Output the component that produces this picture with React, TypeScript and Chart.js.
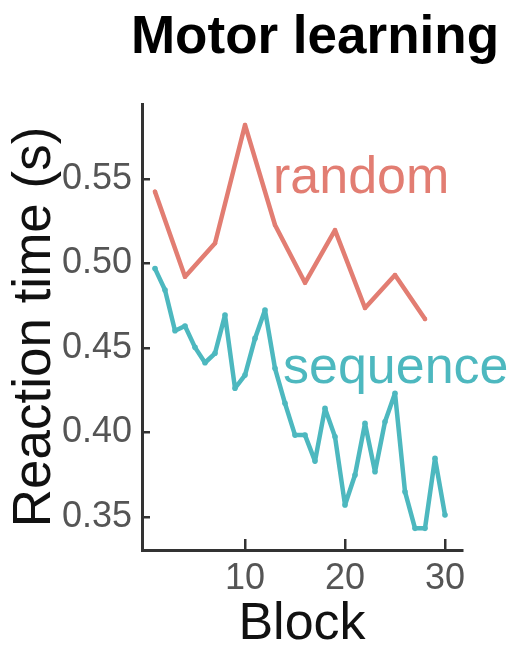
import { useEffect, useRef } from "react";
import { Chart, registerables } from "chart.js";

Chart.register(...registerables);

// ---- data ----
const chartTitle = "Motor learning";
const xAxisTitle = "Block";
const yAxisTitle = "Reaction time (s)";
const seriesNames = ["random", "sequence"];

const randomBlocks = [1, 4, 7, 10, 13, 16, 19, 22, 25, 28];
const randomRT = [0.5425, 0.4922, 0.512, 0.582, 0.5228, 0.4886, 0.5198, 0.4737, 0.4932, 0.4672];

const sequenceBlocks = [
  1, 2, 3, 4, 5, 6, 7, 8, 9, 10, 11, 12, 13, 14, 15,
  16, 17, 18, 19, 20, 21, 22, 23, 24, 25, 26, 27, 28, 29, 30,
];
const sequenceRT = [
  0.497, 0.4843, 0.4602, 0.463, 0.4504, 0.4413, 0.4469, 0.4695, 0.4262, 0.434,
  0.4557, 0.4725, 0.438, 0.4173, 0.3985, 0.3985, 0.3831, 0.4143, 0.3975, 0.3571,
  0.3749, 0.4054, 0.3768, 0.4064, 0.4232, 0.365, 0.3433, 0.3433, 0.3847, 0.3512,
];

const xTickValues = [10, 20, 30];
const yTickValues = [0.35, 0.4, 0.45, 0.5, 0.55];

// ---- styles ----
const RED = "#E27D72";
const TEAL = "#4DB8BF";
const FONT = '"Liberation Sans", Arial, Helvetica, sans-serif';

const labelPlugin = {
  id: "textLabels",
  afterDatasetsDraw(chart: any) {
    const { ctx, scales } = chart;
    const x = scales.x;
    const y = scales.y;
    ctx.save();
    ctx.textBaseline = "alphabetic";
    // title
    ctx.font = `bold 53px ${FONT}`;
    ctx.fillStyle = "#000000";
    ctx.textAlign = "center";
    ctx.fillText(chartTitle, 315, 53);
    // series labels
    ctx.font = `52px ${FONT}`;
    ctx.textAlign = "left";
    ctx.fillStyle = RED;
    ctx.fillText(seriesNames[0], x.getPixelForValue(12.8), y.getPixelForValue(0.5417));
    ctx.fillStyle = TEAL;
    ctx.fillText(seriesNames[1], x.getPixelForValue(13.8), y.getPixelForValue(0.4293));
    ctx.restore();
  },
};

export default function App() {
  const canvasRef = useRef<HTMLCanvasElement | null>(null);

  useEffect(() => {
    if (!canvasRef.current) return;
    const chart = new Chart(canvasRef.current, {
      type: "line",
      data: {
        datasets: [
          {
            label: seriesNames[0],
            data: randomBlocks.map((b, i) => ({ x: b, y: randomRT[i] })),
            borderColor: RED,
            backgroundColor: RED,
            borderWidth: 4.5,
            pointRadius: 2.2,
            pointBorderWidth: 0,
            pointBackgroundColor: RED,
            borderJoinStyle: "round",
            borderCapStyle: "round",
            tension: 0,
            clip: false as any,
          },
          {
            label: seriesNames[1],
            data: sequenceBlocks.map((b, i) => ({ x: b, y: sequenceRT[i] })),
            borderColor: TEAL,
            backgroundColor: TEAL,
            borderWidth: 4.5,
            pointRadius: 2.8,
            pointBorderWidth: 0,
            pointBackgroundColor: TEAL,
            borderJoinStyle: "round",
            borderCapStyle: "round",
            tension: 0,
            clip: false as any,
          },
        ],
      },
      options: {
        responsive: false,
        animation: false,
        layout: { padding: { top: 104, right: 56, left: 0, bottom: 0 } },
        plugins: {
          legend: { display: false },
          tooltip: { enabled: false },
          title: { display: false },
        },
        scales: {
          x: {
            type: "linear",
            min: -0.3,
            max: 31.7,
            afterBuildTicks: (s: any) => {
              s.ticks = xTickValues.map((v) => ({ value: v }));
            },
            afterFit: (s: any) => {
              s.height = 95;
            },
            grid: {
              display: true,
              drawOnChartArea: false,
              drawTicks: true,
              tickLength: -11,
              color: "#333333",
              lineWidth: 2.5,
            },
            border: { display: true, color: "#333333", width: 3 },
            ticks: {
              color: "#555555",
              font: { size: 36, family: FONT },
              padding: 18,
              maxRotation: 0,
              autoSkip: false,
              callback: (v: any) => String(v),
            },
            title: {
              display: true,
              text: xAxisTitle,
              color: "#111111",
              font: { size: 52, family: FONT, lineHeight: 1 },
              padding: { top: 0, bottom: -6 },
            },
          },
          y: {
            type: "linear",
            min: 0.3305,
            max: 0.5944,
            afterBuildTicks: (s: any) => {
              s.ticks = yTickValues.map((v) => ({ value: v }));
            },
            afterFit: (s: any) => {
              s.width = 142;
            },
            grid: {
              display: true,
              drawOnChartArea: false,
              drawTicks: true,
              tickLength: -8,
              color: "#333333",
              lineWidth: 2.5,
            },
            border: { display: true, color: "#333333", width: 3 },
            ticks: {
              color: "#555555",
              font: { size: 36, family: FONT },
              padding: 18,
              autoSkip: false,
              callback: (v: any) => Number(v).toFixed(2),
            },
            title: {
              display: true,
              text: yAxisTitle,
              color: "#111111",
              font: { size: 53, family: FONT, lineHeight: 1 },
              padding: { top: 8.5, bottom: 0 },
            },
          },
        },
      },
      plugins: [labelPlugin],
    });
    return () => chart.destroy();
  }, []);

  return (
    <div style={{ position: "absolute", left: 0, top: 0, width: 518, height: 645, background: "#ffffff" }}>
      <canvas ref={canvasRef} width={518} height={645} style={{ display: "block" }} />
    </div>
  );
}
